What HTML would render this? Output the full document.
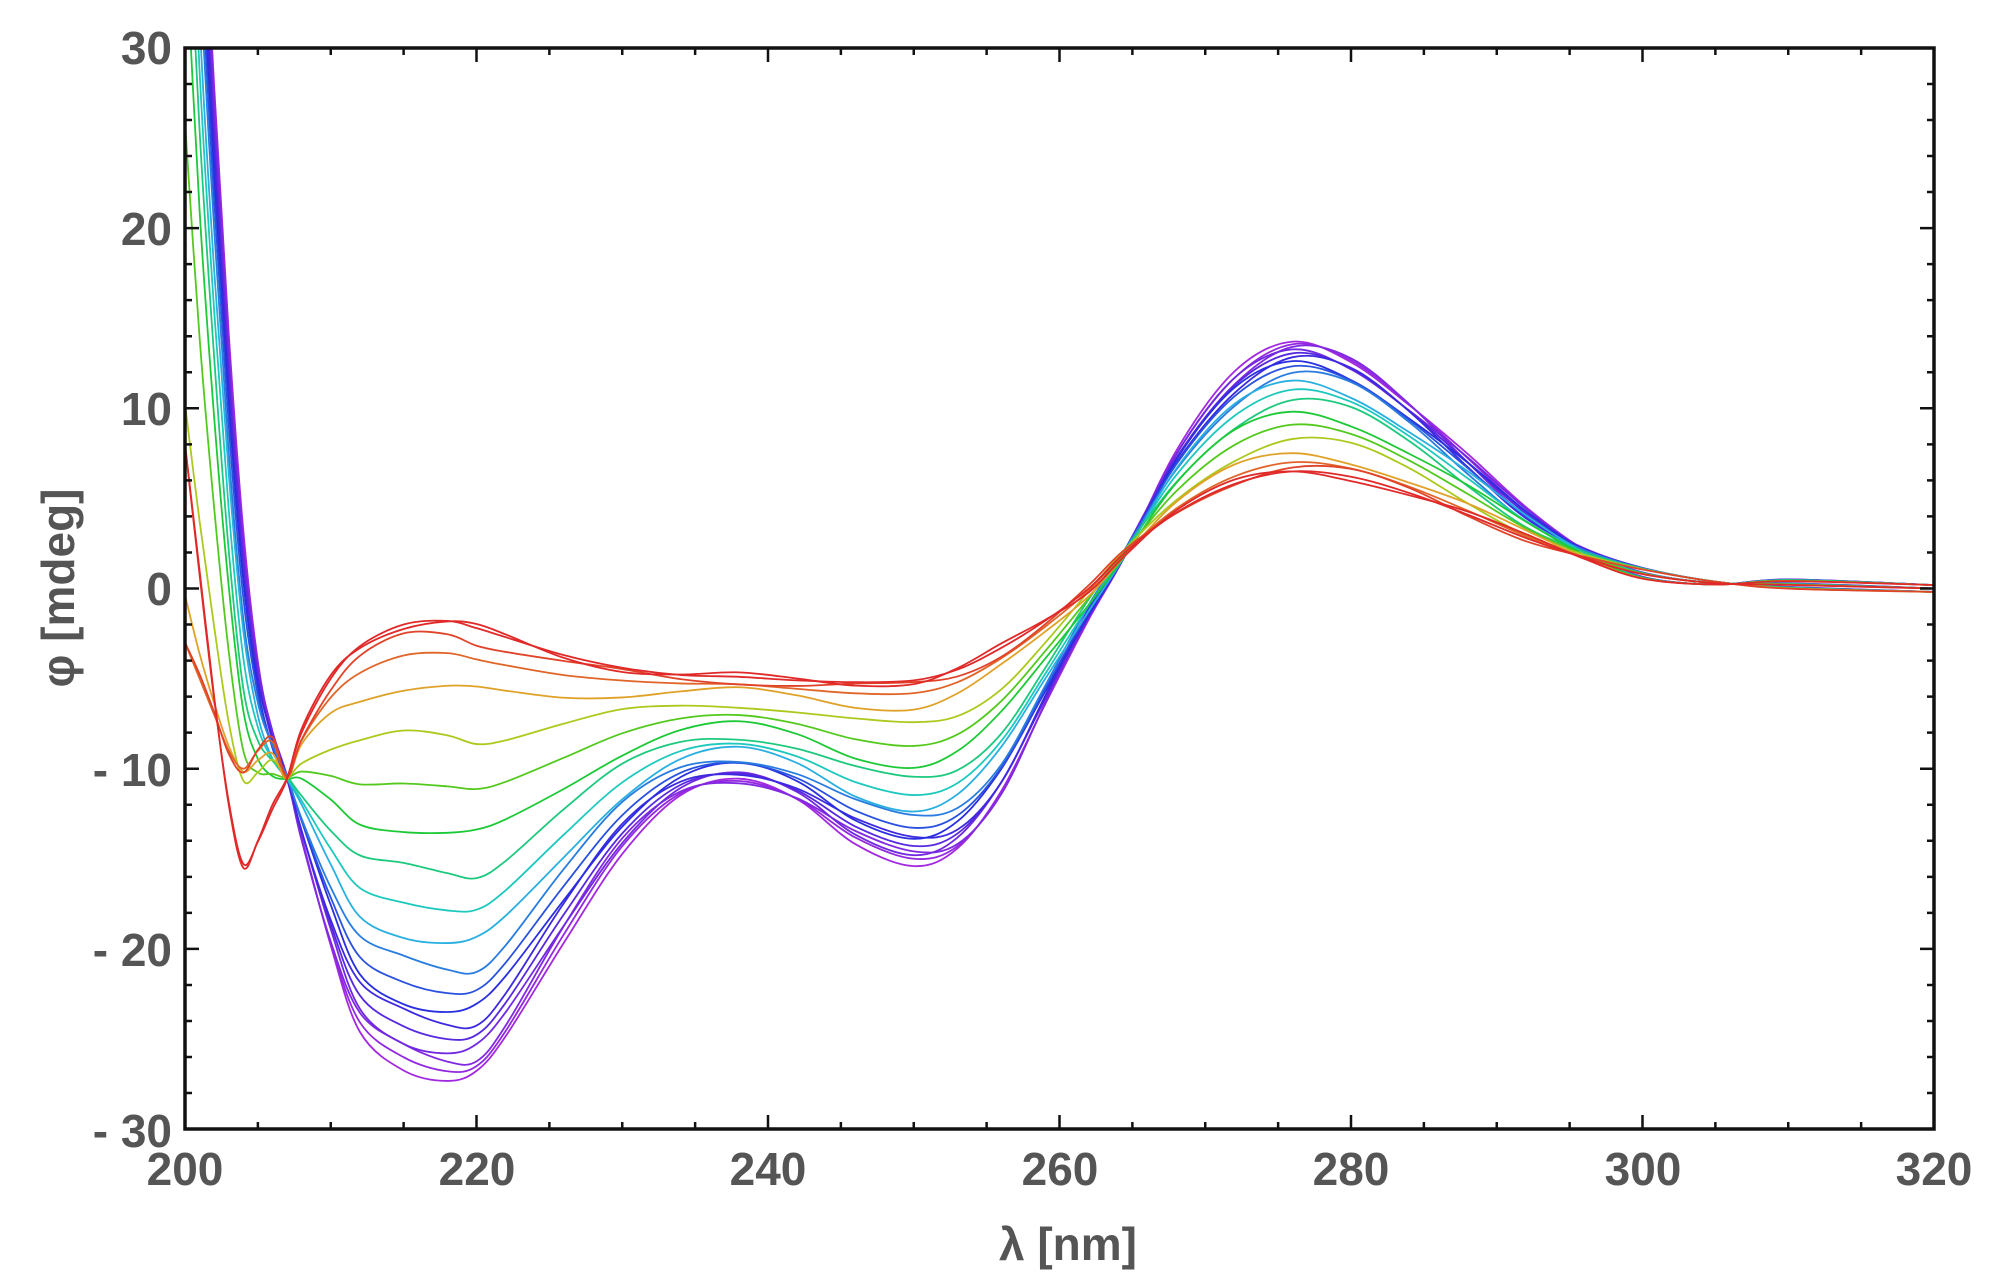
<!DOCTYPE html>
<html><head><meta charset="utf-8"><style>
html,body{margin:0;padding:0;background:#fff}
svg{display:block}
text{font-family:"Liberation Sans",sans-serif;fill:#555;font-weight:bold}
</style></head><body>
<svg id="s" width="2007" height="1282" viewBox="0 0 2007 1282" xmlns="http://www.w3.org/2000/svg">
<defs><clipPath id="c"><rect x="185" y="48" width="1749" height="1081"/></clipPath></defs>
<g id="curves" clip-path="url(#c)"></g>
<rect x="185" y="48" width="1749" height="1081" fill="none" stroke="#111" stroke-width="3.5"/>
<g id="ticks" stroke="#111" stroke-width="2.5"></g>
<g font-size="46">
<text x="172" y="64" text-anchor="end">30</text>
<text x="172" y="245" text-anchor="end">20</text>
<text x="172" y="425" text-anchor="end">10</text>
<text x="172" y="605" text-anchor="end">0</text>
<text x="172" y="786" text-anchor="end">- 10</text>
<text x="172" y="966" text-anchor="end">- 20</text>
<text x="172" y="1147" text-anchor="end">- 30</text>
<text x="185" y="1185" text-anchor="middle">200</text>
<text x="477" y="1185" text-anchor="middle">220</text>
<text x="768" y="1185" text-anchor="middle">240</text>
<text x="1060" y="1185" text-anchor="middle">260</text>
<text x="1351" y="1185" text-anchor="middle">280</text>
<text x="1643" y="1185" text-anchor="middle">300</text>
<text x="1934" y="1185" text-anchor="middle">320</text>
<text x="1068" y="1260" text-anchor="middle">λ [nm]</text>
<text transform="translate(74,588) rotate(-90)" text-anchor="middle">φ [mdeg]</text>
</g>
</svg>
<script>
var X=[200,201,202,203,204,205,206,207,208,210,212,215,218,220,222,226,230,234,238,242,246,250,253,256,259,262,264.5,268,272,276,280,284,288,292,296,300,305,310,320];
var P=[70,45,28,14,3,-4,-8,-10.5,-14,-20,-24.5,-26.5,-27.3,-27,-25,-19.5,-14.5,-11.5,-10.8,-11.8,-14,-15.2,-14.5,-11.5,-6.5,-1.5,2,7.5,11.8,13.7,12.8,10.3,7.3,4.3,2.2,0.9,0.3,0.3,0];
var R=[8,1,-6,-12,-15.5,-14,-12,-10.5,-8,-5,-3.2,-2,-1.8,-2.2,-2.7,-3.7,-4.4,-4.8,-4.9,-5.1,-5.2,-5.1,-4.5,-3.3,-1.8,0,2,4.2,5.8,6.5,6.2,5.3,4.1,2.8,1.7,0.8,0.3,0.2,0];
var S=[-3,-5,-7,-9,-10,-9,-8.5,-10.5];
function px(x){return 185+(x-200)*14.575}
function py(y){return 588.5-y*18.02}
var T=[0,0.02,0.04,0.06,0.09,0.12,0.15,0.19,0.24,0.3,0.37,0.45,0.54,0.64,0.75,0.86,0.93,0.97,1,1];
var g=document.getElementById('curves'),ns="http://www.w3.org/2000/svg";
T.forEach(function(t,k){
  var hue=280*(1-t);
  var pts=X.map(function(x,i){
    var w=(k%3-1)*0.25*Math.sin(i*1.3);
    var v=P[i]*(1-t)+R[i]*t;
    if(i<8&&t>0.6&&t<0.99){var u=Math.min(1,(t-0.6)/0.3);v=v*(1-u)+S[i]*u;}
    return [px(x),py(v+w)]});
  var d="M"+pts[0][0]+","+pts[0][1];
  for(var i=0;i<pts.length-1;i++){
    var p0=pts[Math.max(0,i-1)],p1=pts[i],p2=pts[i+1],p3=pts[Math.min(pts.length-1,i+2)];
    d+=" C"+(p1[0]+(p2[0]-p0[0])/6)+","+(p1[1]+(p2[1]-p0[1])/6)+" "+(p2[0]-(p3[0]-p1[0])/6)+","+(p2[1]-(p3[1]-p1[1])/6)+" "+p2[0]+","+p2[1];
  }
  var e=document.createElementNS(ns,"path");
  e.setAttribute("d",d);e.setAttribute("fill","none");
  e.setAttribute("stroke","hsl("+hue+",75%,"+(hue>40&&hue<180?45:52)+"%)");
  e.setAttribute("stroke-width","1.8");
  g.appendChild(e);
});
var tk=document.getElementById('ticks'),s="";
for(var x=205;x<320;x+=5){var L=(x%20==0)?14:7;s+="M"+px(x)+",1129v-"+L+"M"+px(x)+",48v"+L;}
for(var y=-28;y<30;y+=2){var L=(y%10==0)?14:7;s+="M185,"+py(y)+"h"+L+"M1934,"+py(y)+"h-"+L;}
var e=document.createElementNS(ns,"path");e.setAttribute("d",s);tk.appendChild(e);
</script>
</body></html>
